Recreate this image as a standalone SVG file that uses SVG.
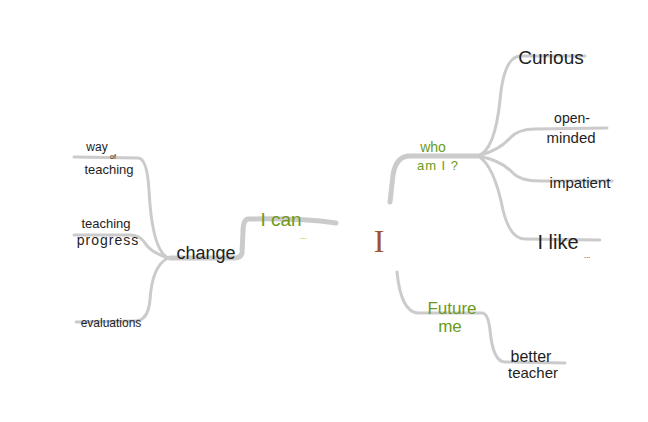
<svg xmlns="http://www.w3.org/2000/svg" width="648" height="422" viewBox="0 0 648 422">
<style>
.main{fill:none;stroke:#cbcbcb;stroke-width:5;stroke-linecap:round;stroke-linejoin:round}
.sub{fill:none;stroke:#cbcbcb;stroke-width:3;stroke-linecap:round}
text{font-family:"Liberation Sans","DejaVu Sans",sans-serif;text-anchor:middle}
.k{fill:#1e1e1e}
.g{fill:#6b9a1c}
.c{fill:#a0522d;font-family:"Liberation Serif","DejaVu Serif",serif}
</style>
<rect width="648" height="422" fill="#ffffff"/>
<g id="connectors">
<path class="main" d="M336,223 Q300,218 248,219 Q243,220 243,232 L242,253 Q241,258 234,258 L170,258"/>
<path class="sub" d="M168,258 Q152,250 149,190 Q147,158 138,158 L74,157"/>
<path class="sub" d="M168,258 Q150,252 145,243 Q140,235 130,235 L74,235"/>
<path class="sub" d="M168,258 Q152,266 150,300 Q148,321 135,321 L76,322"/>
<path class="main" d="M390,202 L393,175 Q396,156 410,156 L478,156"/>
<path class="sub" d="M478,156 Q495,150 500,100 Q504,57 520,56 L585,56"/>
<path class="sub" d="M478,156 Q500,150 510,138 Q518,129 535,129 L607,128"/>
<path class="sub" d="M478,156 Q500,160 512,172 Q520,181 540,181 L612,181"/>
<path class="sub" d="M478,156 Q494,165 503,210 Q510,239 525,239 L600,240"/>
<path class="sub" d="M397,272 Q401,312 418,313 L482,313 Q488,313 490,330 Q493,362 505,362 L565,363"/>
</g>
<g id="center"><text class="c" x="379" y="252" font-size="32">I</text></g>
<g id="ican"><text class="g" x="281" y="226" font-size="19">I can</text><text class="g" x="303" y="239" font-size="8">...</text></g>
<g id="change"><text class="k" x="206" y="259" font-size="18">change</text></g>
<g id="way"><text class="k" x="97" y="151" font-size="12">way</text><text class="k" x="113" y="159" font-size="7">of</text><text class="k" x="109" y="174" font-size="13">teaching</text></g>
<g id="progress"><text class="k" x="106" y="228" font-size="13">teaching</text><text class="k" x="108" y="245" font-size="14" letter-spacing="1">progress</text></g>
<g id="evaluations"><text class="k" x="111" y="327" font-size="12">evaluations</text></g>
<g id="whoami"><text class="g" x="433" y="152" font-size="14">who</text><text class="g" x="438" y="170" font-size="13" letter-spacing="1">am I ?</text></g>
<g id="curious"><text class="k" x="551" y="64" font-size="19">Curious</text></g>
<g id="openminded"><text class="k" x="572" y="123" font-size="14">open-</text><text class="k" x="571" y="143" font-size="15">minded</text></g>
<g id="impatient"><text class="k" x="580" y="188" font-size="15">impatient</text></g>
<g id="ilike"><text class="k" x="558" y="249" font-size="20">I like</text><text class="k" x="587" y="258" font-size="8">...</text></g>
<g id="future"><text class="g" x="452" y="314" font-size="17">Future</text><text class="g" x="450" y="332" font-size="17">me</text></g>
<g id="better"><text class="k" x="531" y="362" font-size="16">better</text><text class="k" x="533" y="378" font-size="15">teacher</text></g>
</svg>
